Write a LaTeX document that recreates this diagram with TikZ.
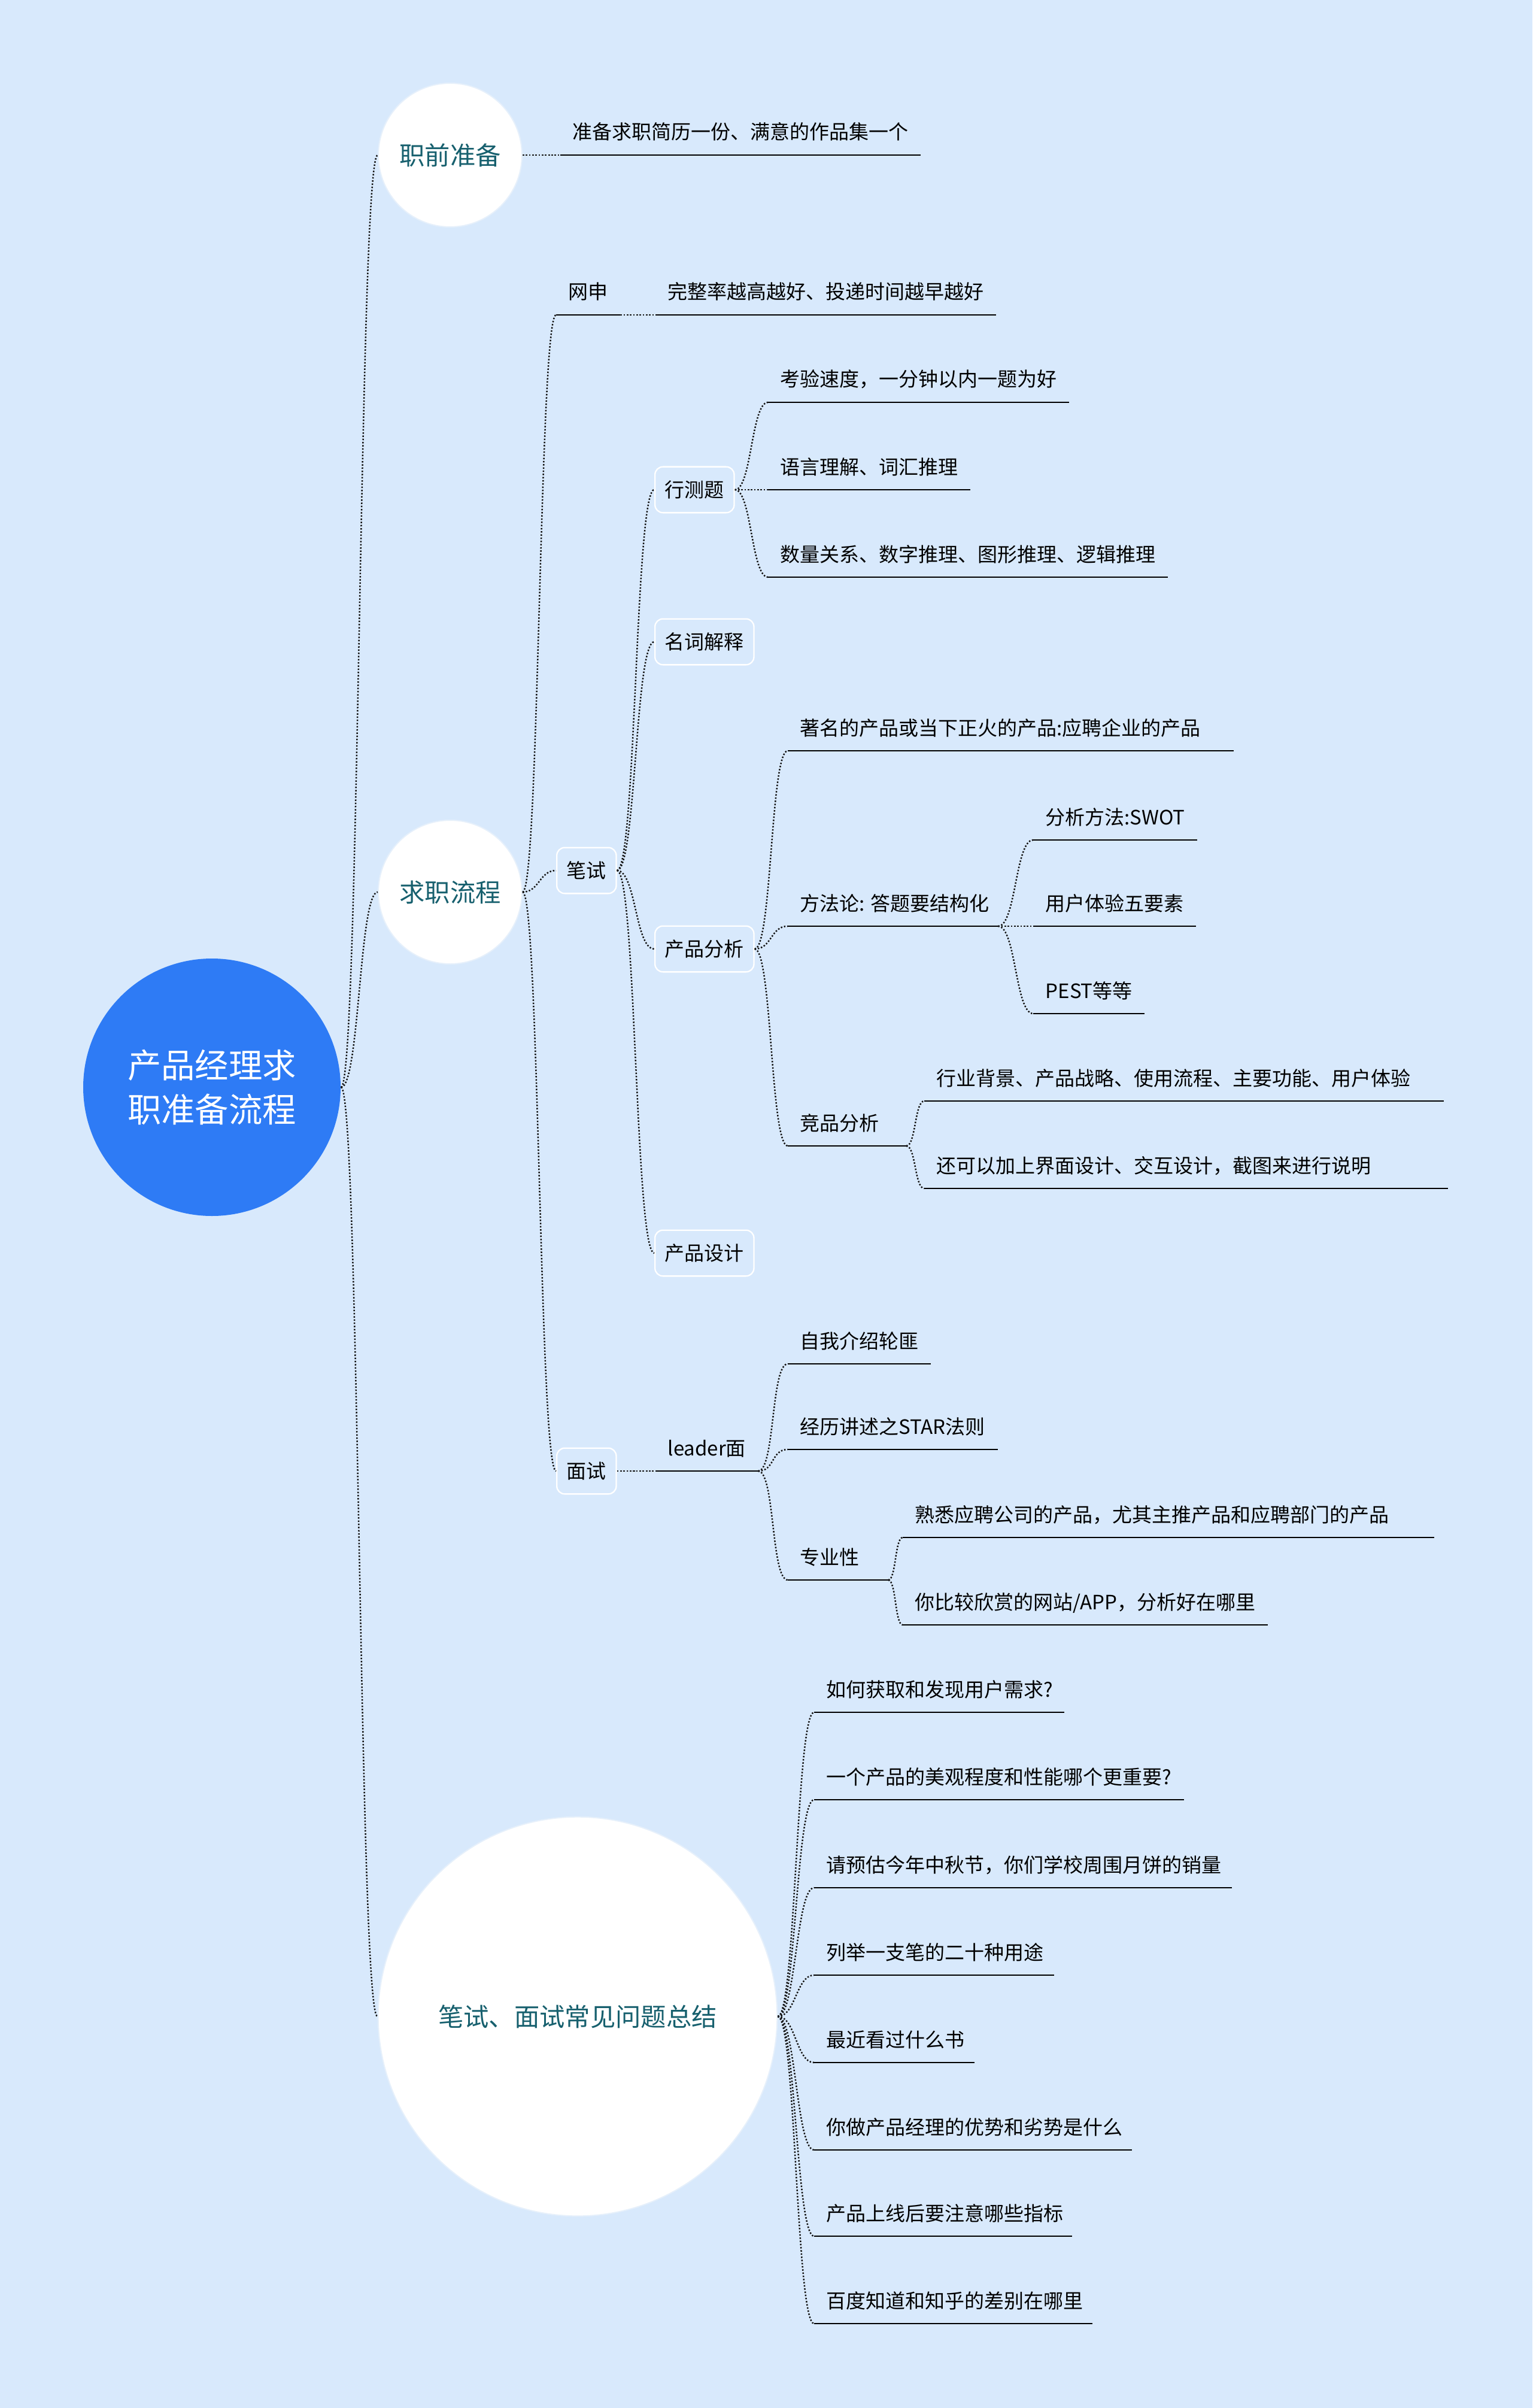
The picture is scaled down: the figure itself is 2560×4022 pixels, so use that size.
\documentclass[tikz,border=0pt]{standalone}
\usepackage{fontspec}
\setmainfont{Noto Sans CJK SC}
\definecolor{bgc}{HTML}{D8E9FC}
\definecolor{rootc}{HTML}{2E7BF5}
\definecolor{tealc}{HTML}{17606E}
\definecolor{linec}{HTML}{141414}
\definecolor{ringc}{HTML}{E6F0FB}
\newcommand{\leaffont}{\fontsize{9.9pt}{12pt}\selectfont}
\newcommand{\topfont}{\fontsize{12.7pt}{15pt}\selectfont}
\newcommand{\rootfont}{\fontsize{16.9pt}{22.3pt}\selectfont}
\newcommand{\lw}[2]{\makebox[#1][l]{#2}}
\tikzset{
  conn/.style={draw=linec, line width=0.75pt, dash pattern=on 0.75pt off 0.85pt},
  uline/.style={draw=black, line width=0.85pt},
  leaf/.style={anchor=south west, inner xsep=6pt, inner ysep=0pt, text height=9pt, text depth=7.6pt,
    font=\leaffont, text=black,
    append after command={(\tikzlastnode.south west) edge[uline] (\tikzlastnode.south east)}},
  boxnode/.style={anchor=west, draw=white, line width=0.7pt, rounded corners=4pt, fill=bgc,
    inner xsep=5pt, inner ysep=0pt, minimum height=23pt, font=\leaffont, text=black},
  topnode/.style={circle, fill=white, draw=ringc, line width=0.6pt, inner sep=0pt,
    minimum size=72pt, font=\topfont, text=tealc},
  rootnode/.style={circle, fill=rootc, inner sep=0pt, minimum size=129pt, font=\rootfont,
    text=white, align=center}
}
\newcommand{\conn}[3]{\draw[conn] (#1) .. controls +(#3,0) and +(-#3,0) .. (#2);}
\begin{document}
\begin{tikzpicture}[x=0.3pt,y=-0.3pt]
\fill[bgc] (0,0) rectangle (2560,4022);
\useasboundingbox (0,0) rectangle (2560,4022);

% root
\node[rootnode] (root) at (354,1816) {产品经理求\\职准备流程};

% level 1
\node[topnode] (prep) at (752,259) {职前准备};
\node[topnode] (flow) at (752,1490) {求职流程};
\node[topnode, minimum size=200pt] (faq) at (965,3368) {笔试、面试常见问题总结};

\conn{root.east}{prep.west}{31}
\conn{root.east}{flow.west}{31}
\conn{root.east}{faq.west}{31}

% 职前准备
\node[leaf] (p1) at (936,259) {准备求职简历一份、满意的作品集一个};
\conn{prep.east}{p1.south west}{30}

% 求职流程
\node[leaf] (wangshen) at (929,526) {网申};
\node[boxnode] (bishi) at (929,1454) {笔试};
\node[boxnode] (mianshi) at (929,2457) {面试};
\conn{flow.east}{wangshen.south west}{28}
\conn{flow.east}{bishi.west}{28}
\conn{flow.east}{mianshi.west}{28}

\node[leaf] (ws1) at (1095,526) {完整率越高越好、投递时间越早越好};
\conn{wangshen.south east}{ws1.south west}{30}

% 笔试
\node[boxnode] (xingce) at (1093,818) {行测题};
\node[boxnode] (mingci) at (1093,1072) {名词解释};
\node[boxnode] (fenxi) at (1093,1585) {产品分析};
\node[boxnode] (sheji) at (1093,2093) {产品设计};
\conn{bishi.east}{xingce.west}{32}
\conn{bishi.east}{mingci.west}{32}
\conn{bishi.east}{fenxi.west}{32}
\conn{bishi.east}{sheji.west}{32}

% 行测题
\node[leaf] (x1) at (1283,672) {考验速度，一分钟以内一题为好};
\node[leaf] (x2) at (1283,818) {语言理解、词汇推理};
\node[leaf] (x3) at (1283,964) {数量关系、数字推理、图形推理、逻辑推理};
\conn{xingce.east}{x1.south west}{28}
\conn{xingce.east}{x2.south west}{28}
\conn{xingce.east}{x3.south west}{28}

% 产品分析
\node[leaf] (f1) at (1316,1254) {\lw{211pt}{著名的产品或当下正火的产品:应聘企业的产品}};
\node[leaf] (f2) at (1316,1547) {\lw{93pt}{方法论: 答题要结构化}};
\node[leaf] (f3) at (1316,1914) {\lw{47pt}{竞品分析}};
\conn{fenxi.east}{f1.south west}{29}
\conn{fenxi.east}{f2.south west}{29}
\conn{fenxi.east}{f3.south west}{29}

\node[leaf] (m1) at (1726,1403) {分析方法:SWOT};
\node[leaf] (m2) at (1726,1547) {用户体验五要素};
\node[leaf] (m3) at (1726,1693) {PEST等等};
\conn{f2.south east}{m1.south west}{30}
\conn{f2.south east}{m2.south west}{30}
\conn{f2.south east}{m3.south west}{30}

\node[leaf] (j1) at (1544,1839) {\lw{248pt}{行业背景、产品战略、使用流程、主要功能、用户体验}};
\node[leaf] (j2) at (1544,1985) {\lw{250pt}{还可以加上界面设计、交互设计，截图来进行说明}};
\conn{f3.south east}{j1.south west}{16}
\conn{f3.south east}{j2.south west}{16}

% 面试
\node[leaf] (leader) at (1095,2457) {leader面};
\conn{mianshi.east}{leader.south west}{30}

\node[leaf] (l1) at (1316,2278) {自我介绍轮匪};
\node[leaf] (l2) at (1316,2421) {经历讲述之STAR法则};
\node[leaf] (l3) at (1316,2639) {\lw{38pt}{专业性}};
\conn{leader.south east}{l1.south west}{28}
\conn{leader.south east}{l2.south west}{28}
\conn{leader.south east}{l3.south west}{28}

\node[leaf] (z1) at (1508,2568) {\lw{254pt}{熟悉应聘公司的产品，尤其主推产品和应聘部门的产品}};
\node[leaf] (z2) at (1508,2714) {你比较欣赏的网站/APP，分析好在哪里};
\conn{l3.south east}{z1.south west}{13}
\conn{l3.south east}{z2.south west}{13}

% 常见问题
\node[leaf] (q1) at (1360,2860) {\lw{113pt}{如何获取和发现用户需求?}};
\node[leaf] (q2) at (1360,3006) {\lw{173pt}{一个产品的美观程度和性能哪个更重要?}};
\node[leaf] (q3) at (1360,3153) {\lw{197pt}{请预估今年中秋节，你们学校周围月饼的销量}};
\node[leaf] (q4) at (1360,3299) {\lw{108pt}{列举一支笔的二十种用途}};
\node[leaf] (q5) at (1360,3445) {\lw{68pt}{最近看过什么书}};
\node[leaf] (q6) at (1360,3591) {\lw{147pt}{你做产品经理的优势和劣势是什么}};
\node[leaf] (q7) at (1360,3735) {\lw{117pt}{产品上线后要注意哪些指标}};
\node[leaf] (q8) at (1360,3881) {\lw{127pt}{百度知道和知乎的差别在哪里}};
\foreach \q in {q1,q2,q3,q4,q5,q6,q7,q8}{\conn{faq.east}{\q.south west}{30}}
\end{tikzpicture}
\end{document}
